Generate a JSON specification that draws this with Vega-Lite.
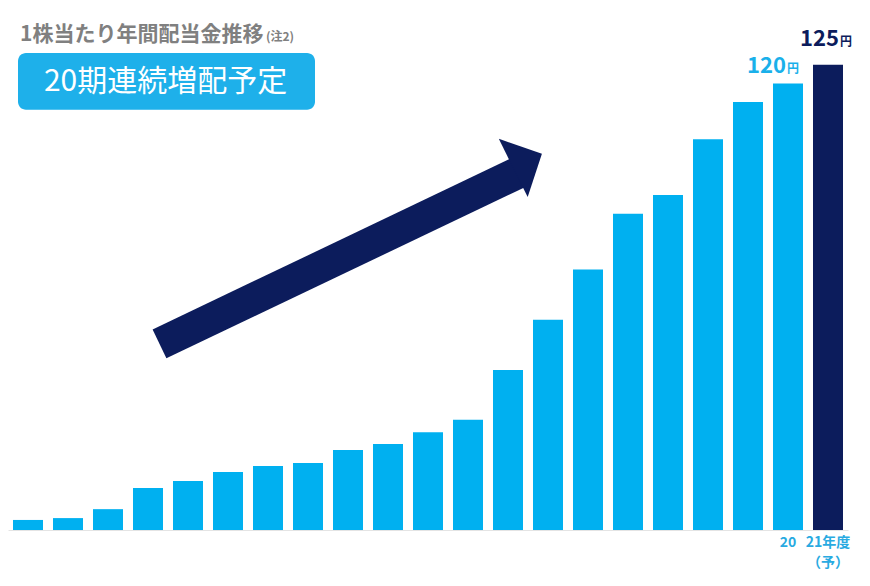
{
  "$schema": "https://vega.github.io/schema/vega-lite/v6.json",
  "width": 840,
  "height": 521,
  "autosize": {"type": "none"},
  "padding": {"left": 8, "top": 9, "right": 22, "bottom": 56},
  "background": "white",
  "config": {
    "view": {"stroke": null},
    "font": "Noto Sans CJK JP",
    "text": {"font": "Noto Sans CJK JP"}
  },
  "data": {
    "values": [
      {"year": "01", "dividend": 2.7},
      {"year": "02", "dividend": 3.2},
      {"year": "03", "dividend": 5.6},
      {"year": "04", "dividend": 11.3},
      {"year": "05", "dividend": 13.2},
      {"year": "06", "dividend": 15.6},
      {"year": "07", "dividend": 17.2},
      {"year": "08", "dividend": 18},
      {"year": "09", "dividend": 21.5},
      {"year": "10", "dividend": 23.1},
      {"year": "11", "dividend": 26.3},
      {"year": "12", "dividend": 29.6},
      {"year": "13", "dividend": 43},
      {"year": "14", "dividend": 56.5},
      {"year": "15", "dividend": 70},
      {"year": "16", "dividend": 85},
      {"year": "17", "dividend": 90},
      {"year": "18", "dividend": 105},
      {"year": "19", "dividend": 115},
      {"year": "20", "dividend": 120},
      {"year": "21", "dividend": 125}
    ]
  },
  "resolve": {"scale": {"x": "independent"}},
  "layer": [
    {
      "encoding": {
        "x": {
          "field": "year",
          "type": "ordinal",
          "scale": {"paddingInner": 0.25, "paddingOuter": 0.125},
          "axis": {
            "title": null,
            "ticks": false,
            "domainColor": "#e4e4e4",
            "labelAngle": 0,
            "labelOverlap": false,
            "labelExpr": "datum.value == '20' ? '20' : datum.value == '21' ? ['21年度', '（予）'] : ''",
            "labelColor": "#29aae1",
            "labelFont": "Noto Sans CJK JP",
            "labelFontWeight": "bold",
            "labelFontSize": 14,
            "labelLineHeight": 20,
            "labelPadding": 5
          }
        },
        "y": {
          "field": "dividend",
          "type": "quantitative",
          "scale": {"domain": [0, 140], "nice": false},
          "axis": null
        }
      },
      "layer": [
        {
          "mark": {"type": "bar"},
          "encoding": {
            "color": {
              "condition": {"test": "datum.year == '21'", "value": "#0c1c5c"},
              "value": "#00b0f0"
            }
          }
        },
        {
          "transform": [{"filter": "datum.year == '20'"}],
          "mark": {"type": "text", "align": "right", "baseline": "alphabetic", "dx": -2, "dy": -10, "fontSize": 22, "fontWeight": "bold", "color": "#1ab0ea"},
          "encoding": {"text": {"field": "dividend", "type": "quantitative"}}
        },
        {
          "transform": [{"filter": "datum.year == '20'"}],
          "mark": {"type": "text", "align": "left", "baseline": "alphabetic", "dx": -1, "dy": -10, "fontSize": 12, "fontWeight": "bold", "color": "#1ab0ea", "text": "円"}
        },
        {
          "transform": [{"filter": "datum.year == '21'"}],
          "mark": {"type": "text", "align": "right", "baseline": "alphabetic", "dx": 11, "dy": -19, "fontSize": 22, "fontWeight": "bold", "color": "#0c1c5c"},
          "encoding": {"text": {"field": "dividend", "type": "quantitative"}}
        },
        {
          "transform": [{"filter": "datum.year == '21'"}],
          "mark": {"type": "text", "align": "left", "baseline": "alphabetic", "dx": 12, "dy": -19, "fontSize": 12, "fontWeight": "bold", "color": "#0c1c5c", "text": "円"}
        }
      ]
    },
    {
      "data": {"values": [{}]},
      "encoding": {
        "x": {"datum": 0, "type": "quantitative", "scale": {"domain": [0, 21], "nice": false, "zero": false}, "axis": null}
      },
      "layer": [
        {
          "mark": {"type": "rect", "cornerRadius": 8, "color": "#1eb0ea"},
          "encoding": {
            "x": {"datum": 0.25, "type": "quantitative", "axis": null},
            "x2": {"datum": 7.675},
            "y": {"datum": 128.2, "type": "quantitative", "axis": null},
            "y2": {"datum": 112.9}
          }
        },
        {
          "mark": {"type": "text", "align": "center", "baseline": "middle", "fontSize": 30, "color": "white", "text": "20期連続増配予定"},
          "encoding": {
            "x": {"datum": 3.94, "type": "quantitative", "axis": null},
            "y": {"datum": 120.4, "type": "quantitative", "axis": null}
          }
        },
        {
          "mark": {"type": "text", "align": "left", "baseline": "alphabetic", "fontSize": 21, "fontWeight": "bold", "color": "#808080", "text": "1株当たり年間配当金推移"},
          "encoding": {
            "x": {"datum": 0.3, "type": "quantitative", "axis": null},
            "y": {"datum": 131.4, "type": "quantitative", "axis": null}
          }
        },
        {
          "mark": {"type": "text", "align": "left", "baseline": "alphabetic", "fontSize": 12, "fontWeight": "bold", "color": "#808080", "text": "(注2)"},
          "encoding": {
            "x": {"datum": 6.45, "type": "quantitative", "axis": null},
            "y": {"datum": 131.4, "type": "quantitative", "axis": null}
          }
        },
        {
          "mark": {"type": "rule", "strokeWidth": 32, "strokeCap": "butt", "color": "#0c1c5c"},
          "encoding": {
            "x": {"datum": 3.7875, "type": "quantitative", "axis": null},
            "y": {"datum": 50.0, "type": "quantitative", "axis": null},
            "x2": {"datum": 12.75},
            "y2": {"datum": 96.0}
          }
        },
        {
          "mark": {"type": "point", "shape": "M-0.5,-1L0.485,0L-0.5,1Z", "filled": true, "size": 4225, "angle": -26.4, "color": "#0c1c5c", "opacity": 1, "strokeWidth": 0},
          "encoding": {
            "x": {"datum": 12.995, "type": "quantitative", "axis": null},
            "y": {"datum": 99.22, "type": "quantitative", "axis": null}
          }
        }
      ]
    }
  ]
}
